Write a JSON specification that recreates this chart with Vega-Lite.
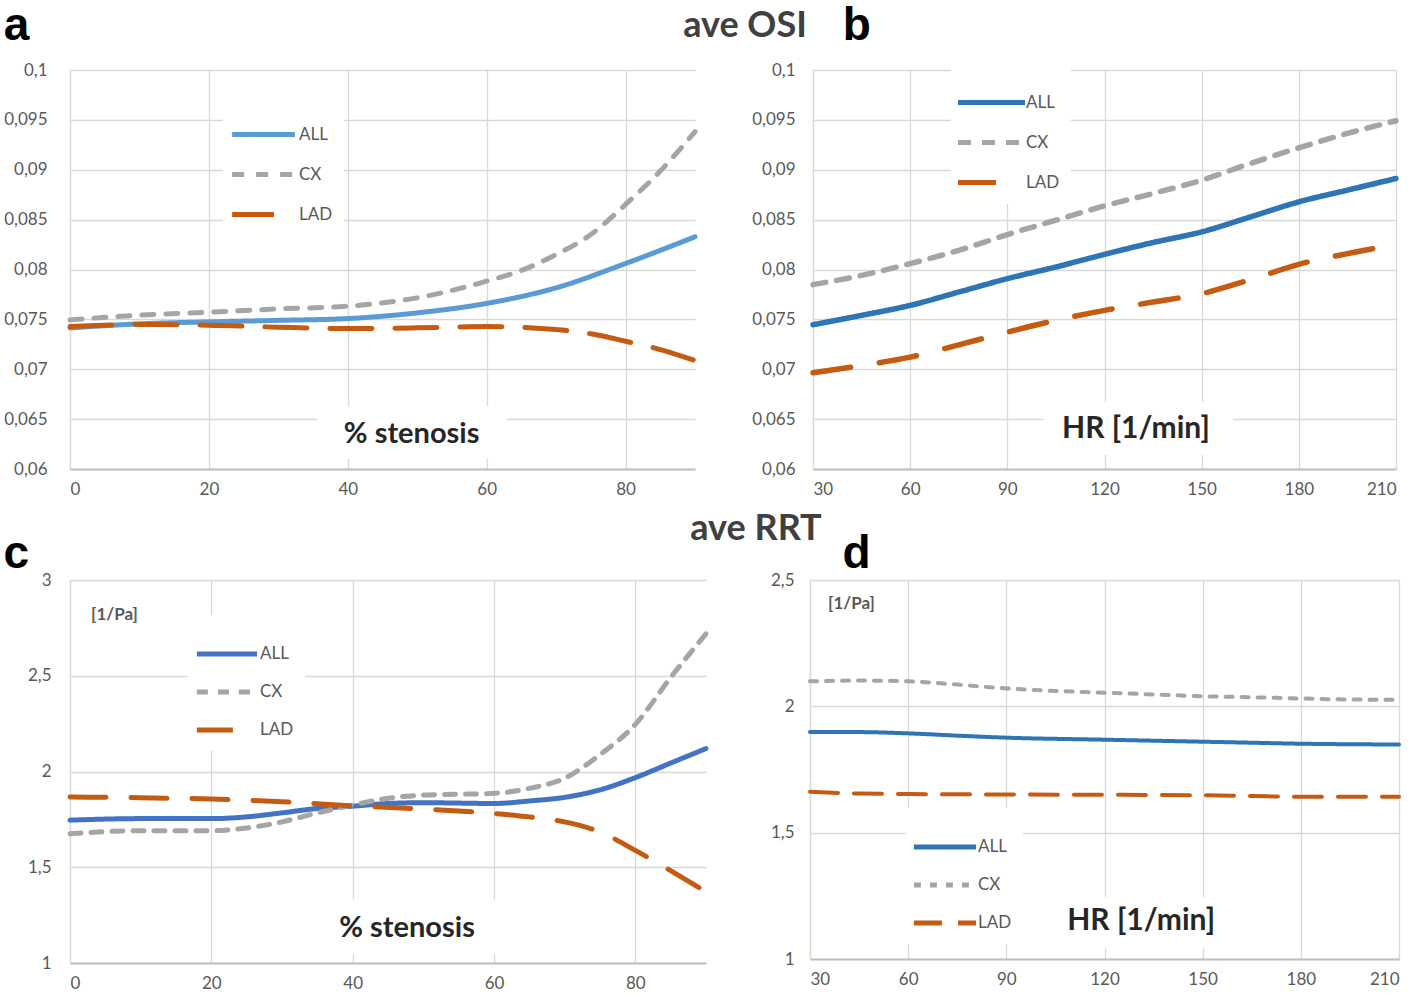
{
  "$schema": "https://vega.github.io/schema/vega-lite/v6.json",
  "padding": {"left": 3, "top": 3, "right": 3, "bottom": 3},
  "background": "white",
  "datasets": {
    "a": [
      {"x": 0, "v": 0.07415, "s": "ALL"}, {"x": 10, "v": 0.07455, "s": "ALL"}, {"x": 20, "v": 0.07475, "s": "ALL"}, {"x": 30, "v": 0.0749, "s": "ALL"}, {"x": 40, "v": 0.07508, "s": "ALL"}, {"x": 50, "v": 0.07565, "s": "ALL"}, {"x": 60, "v": 0.0766, "s": "ALL"}, {"x": 70, "v": 0.07816, "s": "ALL"}, {"x": 80, "v": 0.0806, "s": "ALL"}, {"x": 90, "v": 0.08328, "s": "ALL"},
      {"x": 0, "v": 0.07495, "s": "CX"}, {"x": 10, "v": 0.07542, "s": "CX"}, {"x": 20, "v": 0.07572, "s": "CX"}, {"x": 30, "v": 0.07605, "s": "CX"}, {"x": 40, "v": 0.07632, "s": "CX"}, {"x": 50, "v": 0.07716, "s": "CX"}, {"x": 60, "v": 0.07883, "s": "CX"}, {"x": 65, "v": 0.0799, "s": "CX"}, {"x": 70, "v": 0.0815, "s": "CX"}, {"x": 75, "v": 0.0835, "s": "CX"}, {"x": 80, "v": 0.08652, "s": "CX"}, {"x": 85, "v": 0.08987, "s": "CX"}, {"x": 90, "v": 0.09381, "s": "CX"},
      {"x": 0, "v": 0.07428, "s": "LAD"}, {"x": 10, "v": 0.07448, "s": "LAD"}, {"x": 20, "v": 0.07442, "s": "LAD"}, {"x": 30, "v": 0.07421, "s": "LAD"}, {"x": 40, "v": 0.07408, "s": "LAD"}, {"x": 50, "v": 0.07415, "s": "LAD"}, {"x": 60, "v": 0.07428, "s": "LAD"}, {"x": 70, "v": 0.07398, "s": "LAD"}, {"x": 75, "v": 0.07355, "s": "LAD"}, {"x": 80, "v": 0.07281, "s": "LAD"}, {"x": 85, "v": 0.07197, "s": "LAD"}, {"x": 90, "v": 0.07087, "s": "LAD"}
    ],
    "b": [
      {"x": 30, "v": 0.07446, "s": "ALL"}, {"x": 45, "v": 0.0754, "s": "ALL"}, {"x": 60, "v": 0.0764, "s": "ALL"}, {"x": 75, "v": 0.07774, "s": "ALL"}, {"x": 90, "v": 0.07908, "s": "ALL"}, {"x": 105, "v": 0.08025, "s": "ALL"}, {"x": 120, "v": 0.08152, "s": "ALL"}, {"x": 135, "v": 0.0827, "s": "ALL"}, {"x": 150, "v": 0.08377, "s": "ALL"}, {"x": 165, "v": 0.08527, "s": "ALL"}, {"x": 180, "v": 0.08678, "s": "ALL"}, {"x": 195, "v": 0.08795, "s": "ALL"}, {"x": 210, "v": 0.08912, "s": "ALL"},
      {"x": 30, "v": 0.07848, "s": "CX"}, {"x": 45, "v": 0.07941, "s": "CX"}, {"x": 60, "v": 0.08059, "s": "CX"}, {"x": 75, "v": 0.08192, "s": "CX"}, {"x": 90, "v": 0.0835, "s": "CX"}, {"x": 105, "v": 0.08494, "s": "CX"}, {"x": 120, "v": 0.08638, "s": "CX"}, {"x": 135, "v": 0.08762, "s": "CX"}, {"x": 150, "v": 0.08895, "s": "CX"}, {"x": 165, "v": 0.09063, "s": "CX"}, {"x": 180, "v": 0.0922, "s": "CX"}, {"x": 195, "v": 0.09364, "s": "CX"}, {"x": 210, "v": 0.09491, "s": "CX"},
      {"x": 30, "v": 0.06964, "s": "LAD"}, {"x": 45, "v": 0.07038, "s": "LAD"}, {"x": 60, "v": 0.07121, "s": "LAD"}, {"x": 75, "v": 0.07245, "s": "LAD"}, {"x": 90, "v": 0.07372, "s": "LAD"}, {"x": 105, "v": 0.0749, "s": "LAD"}, {"x": 120, "v": 0.0759, "s": "LAD"}, {"x": 135, "v": 0.07674, "s": "LAD"}, {"x": 150, "v": 0.07757, "s": "LAD"}, {"x": 165, "v": 0.07898, "s": "LAD"}, {"x": 180, "v": 0.08052, "s": "LAD"}, {"x": 195, "v": 0.08159, "s": "LAD"}, {"x": 210, "v": 0.0825, "s": "LAD"}
    ],
    "c": [
      {"x": 0, "v": 1.746, "s": "ALL"}, {"x": 10, "v": 1.754, "s": "ALL"}, {"x": 20, "v": 1.754, "s": "ALL"}, {"x": 25, "v": 1.763, "s": "ALL"}, {"x": 30, "v": 1.784, "s": "ALL"}, {"x": 35, "v": 1.807, "s": "ALL"}, {"x": 40, "v": 1.819, "s": "ALL"}, {"x": 45, "v": 1.833, "s": "ALL"}, {"x": 50, "v": 1.837, "s": "ALL"}, {"x": 60, "v": 1.833, "s": "ALL"}, {"x": 65, "v": 1.846, "s": "ALL"}, {"x": 70, "v": 1.865, "s": "ALL"}, {"x": 75, "v": 1.904, "s": "ALL"}, {"x": 80, "v": 1.968, "s": "ALL"}, {"x": 85, "v": 2.044, "s": "ALL"}, {"x": 90, "v": 2.12, "s": "ALL"},
      {"x": 0, "v": 1.675, "s": "CX"}, {"x": 10, "v": 1.691, "s": "CX"}, {"x": 20, "v": 1.691, "s": "CX"}, {"x": 25, "v": 1.705, "s": "CX"}, {"x": 30, "v": 1.737, "s": "CX"}, {"x": 35, "v": 1.784, "s": "CX"}, {"x": 40, "v": 1.825, "s": "CX"}, {"x": 45, "v": 1.86, "s": "CX"}, {"x": 50, "v": 1.877, "s": "CX"}, {"x": 60, "v": 1.886, "s": "CX"}, {"x": 65, "v": 1.912, "s": "CX"}, {"x": 70, "v": 1.965, "s": "CX"}, {"x": 75, "v": 2.088, "s": "CX"}, {"x": 80, "v": 2.246, "s": "CX"}, {"x": 85, "v": 2.491, "s": "CX"}, {"x": 90, "v": 2.719, "s": "CX"},
      {"x": 0, "v": 1.867, "s": "LAD"}, {"x": 10, "v": 1.863, "s": "LAD"}, {"x": 20, "v": 1.856, "s": "LAD"}, {"x": 30, "v": 1.842, "s": "LAD"}, {"x": 40, "v": 1.821, "s": "LAD"}, {"x": 50, "v": 1.804, "s": "LAD"}, {"x": 60, "v": 1.781, "s": "LAD"}, {"x": 65, "v": 1.763, "s": "LAD"}, {"x": 70, "v": 1.737, "s": "LAD"}, {"x": 75, "v": 1.684, "s": "LAD"}, {"x": 80, "v": 1.588, "s": "LAD"}, {"x": 85, "v": 1.482, "s": "LAD"}, {"x": 90, "v": 1.372, "s": "LAD"}
    ],
    "d": [
      {"x": 30, "v": 1.898, "s": "ALL"}, {"x": 45, "v": 1.898, "s": "ALL"}, {"x": 60, "v": 1.893, "s": "ALL"}, {"x": 75, "v": 1.884, "s": "ALL"}, {"x": 90, "v": 1.876, "s": "ALL"}, {"x": 120, "v": 1.868, "s": "ALL"}, {"x": 150, "v": 1.86, "s": "ALL"}, {"x": 165, "v": 1.856, "s": "ALL"}, {"x": 180, "v": 1.852, "s": "ALL"}, {"x": 195, "v": 1.85, "s": "ALL"}, {"x": 210, "v": 1.849, "s": "ALL"},
      {"x": 30, "v": 2.099, "s": "CX"}, {"x": 45, "v": 2.102, "s": "CX"}, {"x": 60, "v": 2.099, "s": "CX"}, {"x": 75, "v": 2.086, "s": "CX"}, {"x": 90, "v": 2.071, "s": "CX"}, {"x": 105, "v": 2.061, "s": "CX"}, {"x": 120, "v": 2.054, "s": "CX"}, {"x": 135, "v": 2.047, "s": "CX"}, {"x": 150, "v": 2.04, "s": "CX"}, {"x": 165, "v": 2.036, "s": "CX"}, {"x": 180, "v": 2.031, "s": "CX"}, {"x": 195, "v": 2.027, "s": "CX"}, {"x": 210, "v": 2.026, "s": "CX"},
      {"x": 30, "v": 1.662, "s": "LAD"}, {"x": 45, "v": 1.655, "s": "LAD"}, {"x": 60, "v": 1.653, "s": "LAD"}, {"x": 90, "v": 1.651, "s": "LAD"}, {"x": 120, "v": 1.65, "s": "LAD"}, {"x": 150, "v": 1.648, "s": "LAD"}, {"x": 165, "v": 1.645, "s": "LAD"}, {"x": 180, "v": 1.642, "s": "LAD"}, {"x": 210, "v": 1.642, "s": "LAD"}
    ]
  },
  "vconcat": [
    {
      "title": {"text": "ave OSI", "anchor": "middle", "frame": "group", "font": "Lato", "fontSize": 36, "fontWeight": "bold", "color": "#404040", "offset": -42, "dx": 675},
      "hconcat": [
        {
          "width": 625, "height": 399,
          "title": {"text": "a", "dx": 0, "offset": 11},
          "layer": [
            {"data": {"values": [{}]}, "mark": {"type": "rect", "color": "white"},
             "encoding": {"x": {"datum": 35.6}, "x2": {"datum": 62.9}, "y": {"datum": 0.0663}, "y2": {"datum": 0.061}}},
            {"data": {"values": [{}]}, "mark": {"type": "text", "fontSize": 29, "fontWeight": "bold", "color": "#262626", "font": "Lato"},
             "encoding": {"x": {"datum": 49.2}, "y": {"datum": 0.0635}, "text": {"value": "% stenosis"}}},
            {"data": {"name": "a"},
             "mark": {"type": "line", "interpolate": "monotone", "strokeWidth": 5, "strokeCap": "round"},
             "encoding": {
               "x": {"field": "x", "type": "quantitative", "scale": {"domain": [0, 90], "nice": false, "zero": false},
                     "axis": {"values": [0, 20, 40, 60, 80], "title": null}},
               "y": {"field": "v", "type": "quantitative", "scale": {"domain": [0.06, 0.1], "nice": false, "zero": false},
                     "axis": {"values": [0.06, 0.065, 0.07, 0.075, 0.08, 0.085, 0.09, 0.095, 0.1], "title": null, "labelPadding": 23}},
               "color": {"field": "s", "type": "nominal", "scale": {"domain": ["ALL", "CX", "LAD"], "range": ["#5B9BD5", "#A5A5A5", "#C55A11"]},
                         "legend": {"legendX": 153, "legendY": 24, "symbolSize": 2830, "symbolType": "M-1.18,0H1.18", "labelOffset": 6}},
               "strokeDash": {"field": "s", "type": "nominal", "scale": {"domain": ["ALL", "CX", "LAD"], "range": [[1, 0], [12, 12], [42, 23]]},
                         "legend": {"legendX": 153, "legendY": 24, "symbolSize": 2830, "symbolType": "M-1.18,0H1.18", "labelOffset": 6}}
             }}
          ]
        },
        {
          "width": 583, "height": 399,
          "title": {"text": "b", "dx": 91, "offset": 11},
          "layer": [
            {"data": {"values": [{}]}, "mark": {"type": "rect", "color": "white"},
             "encoding": {"x": {"datum": 101.3}, "x2": {"datum": 159.7}, "y": {"datum": 0.0667}, "y2": {"datum": 0.0614}}},
            {"data": {"values": [{}]}, "mark": {"type": "text", "fontSize": 30, "fontWeight": "bold", "color": "#262626", "font": "Lato"},
             "encoding": {"x": {"datum": 129.7}, "y": {"datum": 0.064}, "text": {"value": "HR [1/min]"}}},
            {"data": {"name": "b"},
             "mark": {"type": "line", "interpolate": "monotone", "strokeWidth": 5.5, "strokeCap": "round"},
             "encoding": {
               "x": {"field": "x", "type": "quantitative", "scale": {"domain": [30, 210], "nice": false, "zero": false},
                     "axis": {"values": [30, 60, 90, 120, 150, 180, 210], "title": null}},
               "y": {"field": "v", "type": "quantitative", "scale": {"domain": [0.06, 0.1], "nice": false, "zero": false},
                     "axis": {"values": [0.06, 0.065, 0.07, 0.075, 0.08, 0.085, 0.09, 0.095, 0.1], "title": null, "labelPadding": 18}},
               "color": {"field": "s", "type": "nominal", "scale": {"domain": ["ALL", "CX", "LAD"], "range": ["#2E75B6", "#A5A5A5", "#C55A11"]},
                         "legend": {"legendX": 138, "legendY": -8, "symbolSize": 2830, "symbolType": "M-1.26,0H1.26", "labelOffset": 5}},
               "strokeDash": {"field": "s", "type": "nominal", "scale": {"domain": ["ALL", "CX", "LAD"], "range": [[1, 0], [13, 11], [38, 29]]},
                         "legend": {"legendX": 138, "legendY": -8, "symbolSize": 2830, "symbolType": "M-1.26,0H1.26", "labelOffset": 5}}
             }}
          ]
        }
      ],
      "spacing": 46,
      "resolve": {"scale": {"color": "independent", "strokeDash": "independent"}, "legend": {"color": "independent", "strokeDash": "independent"}}
    },
    {
      "title": {"text": "ave RRT", "anchor": "middle", "frame": "group", "font": "Lato", "fontSize": 36, "fontWeight": "bold", "color": "#404040", "offset": -17, "dx": 686},
      "hconcat": [
        {
          "width": 636, "height": 383,
          "title": {"text": "c", "dx": -24, "offset": -7},
          "layer": [
            {"data": {"values": [{}]}, "mark": {"type": "rect", "color": "white"},
             "encoding": {"x": {"datum": 34.4}, "x2": {"datum": 61.4}, "y": {"datum": 1.332}, "y2": {"datum": 1.053}}},
            {"data": {"values": [{}]}, "mark": {"type": "text", "fontSize": 29, "fontWeight": "bold", "color": "#262626", "font": "Lato"},
             "encoding": {"x": {"datum": 47.7}, "y": {"datum": 1.184}, "text": {"value": "% stenosis"}}},
            {"data": {"name": "c"},
             "mark": {"type": "line", "interpolate": "monotone", "strokeWidth": 5, "strokeCap": "round"},
             "encoding": {
               "x": {"field": "x", "type": "quantitative", "scale": {"domain": [0, 90], "nice": false, "zero": false},
                     "axis": {"values": [0, 20, 40, 60, 80], "title": null}},
               "y": {"field": "v", "type": "quantitative", "scale": {"domain": [1, 3], "nice": false, "zero": false},
                     "axis": {"values": [1, 1.5, 2, 2.5, 3], "title": "[1/Pa]", "titleX": 44, "titleY": 34, "labelPadding": 19}},
               "color": {"field": "s", "type": "nominal", "scale": {"domain": ["ALL", "CX", "LAD"], "range": ["#4472C4", "#A5A5A5", "#C55A11"]},
                         "legend": {"legendX": 118, "legendY": 35, "symbolSize": 2600, "symbolType": "M-1.18,0H1.18", "labelOffset": 5}},
               "strokeDash": {"field": "s", "type": "nominal", "scale": {"domain": ["ALL", "CX", "LAD"], "range": [[1, 0], [11, 10], [36, 25]]},
                         "legend": {"legendX": 118, "legendY": 35, "symbolSize": 2600, "symbolType": "M-1.18,0H1.18", "labelOffset": 5}}
             }}
          ]
        },
        {
          "width": 589, "height": 379,
          "title": {"text": "d", "dx": 72, "offset": -7},
          "layer": [
            {"data": {"values": [{}]}, "mark": {"type": "rect", "color": "white"},
             "encoding": {"x": {"datum": 102.7}, "x2": {"datum": 161.1}, "y": {"datum": 1.243}, "y2": {"datum": 1.043}}},
            {"data": {"values": [{}]}, "mark": {"type": "text", "fontSize": 30, "fontWeight": "bold", "color": "#262626", "font": "Lato"},
             "encoding": {"x": {"datum": 131.2}, "y": {"datum": 1.149}, "text": {"value": "HR [1/min]"}}},
            {"data": {"name": "d"},
             "mark": {"type": "line", "interpolate": "monotone", "strokeWidth": 4, "strokeCap": "round"},
             "encoding": {
               "x": {"field": "x", "type": "quantitative", "scale": {"domain": [30, 210], "nice": false, "zero": false},
                     "axis": {"values": [30, 60, 90, 120, 150, 180, 210], "title": null}},
               "y": {"field": "v", "type": "quantitative", "scale": {"domain": [1, 2.5], "nice": false, "zero": false},
                     "axis": {"values": [1, 1.5, 2, 2.5], "title": "[1/Pa]", "titleX": 41, "titleY": 23, "labelPadding": 16}},
               "color": {"field": "s", "type": "nominal", "scale": {"domain": ["ALL", "CX", "LAD"], "range": ["#2E75B6", "#A5A5A5", "#C55A11"]},
                         "legend": {"legendX": 96, "legendY": 228, "symbolSize": 2600, "symbolType": "M-1.22,0H1.22", "labelOffset": 5}},
               "strokeDash": {"field": "s", "type": "nominal", "scale": {"domain": ["ALL", "CX", "LAD"], "range": [[1, 0], [7, 9], [28, 16]]},
                         "legend": {"legendX": 96, "legendY": 228, "symbolSize": 2600, "symbolType": "M-1.22,0H1.22", "labelOffset": 5}}
             }}
          ]
        }
      ],
      "spacing": 54,
      "resolve": {"scale": {"color": "independent", "strokeDash": "independent"}, "legend": {"color": "independent", "strokeDash": "independent"}}
    }
  ],
  "spacing": 14,
  "resolve": {"scale": {"color": "independent", "strokeDash": "independent"}, "legend": {"color": "independent", "strokeDash": "independent"}},
  "config": {
    "font": "Lato",
    "view": {"stroke": null},
    "axis": {
      "grid": true, "gridColor": "#D9D9D9", "gridWidth": 1.3, "ticks": false,
      "labelColor": "#595959", "labelFontSize": 17, "labelFont": "Lato",
      "labelExpr": "replace(toString(datum.value), '.', ',')",
      "domainColor": "#D9D9D9", "domainWidth": 1.3,
      "titleFont": "Lato", "titleFontWeight": "bold", "titleColor": "#595959", "titleFontSize": 17,
      "titleAlign": "center", "titleBaseline": "middle", "titleAngle": 0
    },
    "axisX": {"domainColor": "#BFBFBF", "domainWidth": 1.8, "labelPadding": 12},
    "legend": {
      "orient": "none", "title": null, "fillColor": "white", "padding": 11, "rowPadding": 0,
      "symbolType": "M-1.12,0H1.12", "symbolSize": 3200, "symbolStrokeWidth": 5,
      "labelFontSize": 17, "labelColor": "#595959", "labelFont": "Lato", "labelOffset": 8
    },
    "title": {
      "font": "Liberation Sans", "fontSize": 46, "fontWeight": "bold", "color": "black", "anchor": "start", "frame": "bounds"
    }
  }
}
